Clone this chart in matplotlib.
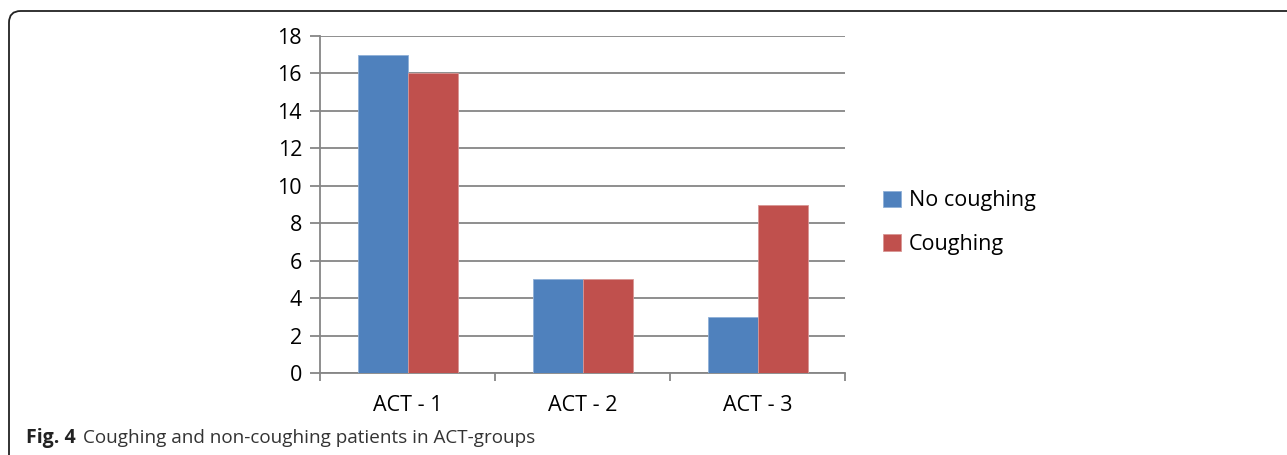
import matplotlib.pyplot as plt
import numpy as np
from matplotlib.patches import FancyBboxPatch

groups = ["ACT - 1", "ACT - 2", "ACT - 3"]
no_coughing = [17, 5, 3]
coughing = [16, 5, 9]
series_names = ["No coughing", "Coughing"]
y_ticks = [0, 2, 4, 6, 8, 10, 12, 14, 16, 18]

W, H = 1287, 455
fig = plt.figure(figsize=(W / 100, H / 100), dpi=100)

# rounded frame around the figure (open to the right and bottom)
frame = FancyBboxPatch((9 / W, -0.2), 1.2, 1.2 - 11 / H,
                       boxstyle="round,pad=0,rounding_size=0.009",
                       transform=fig.transFigure, fill=False,
                       edgecolor="#222222", linewidth=1.3,
                       mutation_aspect=W / H)
fig.patches.append(frame)

ax = fig.add_axes([320 / W, 1 - 373 / H, 525 / W, 337 / H])

grid_col = "#868686"
x = np.arange(len(groups))
bw = 50 / 175
ax.bar(x - bw / 2, no_coughing, bw, color="#4F81BD", edgecolor="#8fb0d8",
       linewidth=0.6, label=series_names[0], zorder=3)
ax.bar(x + bw / 2, coughing, bw, color="#C0504D", edgecolor="#d99694",
       linewidth=0.6, label=series_names[1], zorder=3)

ax.set_xlim(-0.5, 2.5)
ax.set_ylim(0, 18)
ax.set_yticks(y_ticks)
ax.yaxis.grid(True, color=grid_col, linewidth=1.3)
ax.set_axisbelow(True)

for s in ["top", "right"]:
    ax.spines[s].set_visible(False)
for s in ["left", "bottom"]:
    ax.spines[s].set_color(grid_col)
    ax.spines[s].set_linewidth(1.3)

ax.tick_params(axis="y", length=7, width=1.3, color=grid_col, pad=6,
               labelsize=15.5)
ax.set_xticks(x)
ax.set_xticklabels(groups, fontsize=15.5)
ax.tick_params(axis="x", length=0, pad=16)
ax.set_xticks([-0.5, 0.5, 1.5, 2.5], minor=True)
ax.tick_params(axis="x", which="minor", length=6, width=1.3, color=grid_col)
for lab in ax.get_xticklabels() + ax.get_yticklabels():
    lab.set_fontfamily("Open Sans")

leg = fig.legend(loc="upper left", bbox_to_anchor=(864 / W, 1 - 171 / H),
                 frameon=False, handlelength=0.8, handleheight=0.8,
                 handletextpad=0.4, labelspacing=1.05,
                 prop={"family": "Open Sans", "size": 15.5})

fig.text(26 / W, 1 - 443 / H, "Fig. 4", fontsize=14, fontweight="bold",
         family="Open Sans", va="baseline", ha="left", color="#222222")
fig.text(83 / W, 1 - 443 / H, "Coughing and non-coughing patients in ACT-groups",
         fontsize=13.6, family="Open Sans", va="baseline", ha="left",
         color="#333333")

fig.savefig("out.png", dpi=100)
